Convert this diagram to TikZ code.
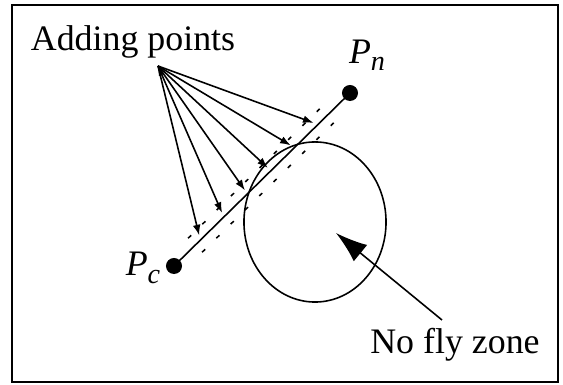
\documentclass[tikz,border=0pt]{standalone}
\usepackage{fontspec}
\setmainfont{Liberation Serif}
\usetikzlibrary{calc, arrows.meta, shapes.geometric}

\newcommand{\ptlabel}[1]{\textit{P}\raisebox{-0.45ex}{\footnotesize\textit{#1}}}

\begin{document}
\begin{tikzpicture}[x=0.01cm, y=-0.01cm, line width=0.45pt, >=latex,
        dot/.style={circle, fill=black, inner sep=0pt, minimum size=0.16cm},
        feed/.style={-{Latex[length=3pt, width=2.2pt]}},
        guide/.style={dash pattern=on 1.2pt off 4.5pt},
        lbl/.style={font=\fontsize{10.2}{12}\selectfont, inner sep=0pt}]
        \useasboundingbox (0,0) rectangle (563,385);
        \draw (12,5) rectangle (558,382);

        \node[lbl] (adding) at (133,42) {Adding points};
        \coordinate (apex) at (158,66);

        \node[dot] (pc) at (174,266) {};
        \node[dot] (pn) at (350,93) {};
        \node[lbl] (pclbl) at (143,268) {\ptlabel{c}};
        \node[lbl] (pnlbl) at (367,55) {\ptlabel{n}};

        \node[draw, ellipse, minimum width=1.42cm, minimum height=1.6cm, inner sep=0pt] (zone) at (315,222) {};
        \node[lbl] (zonelbl) at (455,345) {No fly zone};

        \draw (pc.center) -- (pn.center);

        % dotted margins either side of the path
        \draw[guide] ($(pc)!0.12!(pn)+(-7,-7)$) -- ($(pc)!0.88!(pn)+(-7,-7)$);
        \draw[guide] ($(pc)!0.12!(pn)+(7,7)$) -- ($(pc)!0.88!(pn)+(7,7)$);

        \foreach \t [count=\i] in {0.16,0.29,0.42,0.55,0.68,0.81}
            \coordinate (q\i) at ($(pc)!\t!(pn)+(-3,-3)$);
        \foreach \i in {1,...,6}
            \draw[feed] (apex) -- (q\i);
        \fill (apex) -- ++(6,8) -- ++(-5,2) -- cycle;

        \coordinate (zonetail) at (442,320);
        \coordinate (zonetip) at (336,233);
        \draw[-{Latex[length=9pt, width=6pt]}] (zonetail) -- (zonetip);
    \end{tikzpicture}
\end{document}
